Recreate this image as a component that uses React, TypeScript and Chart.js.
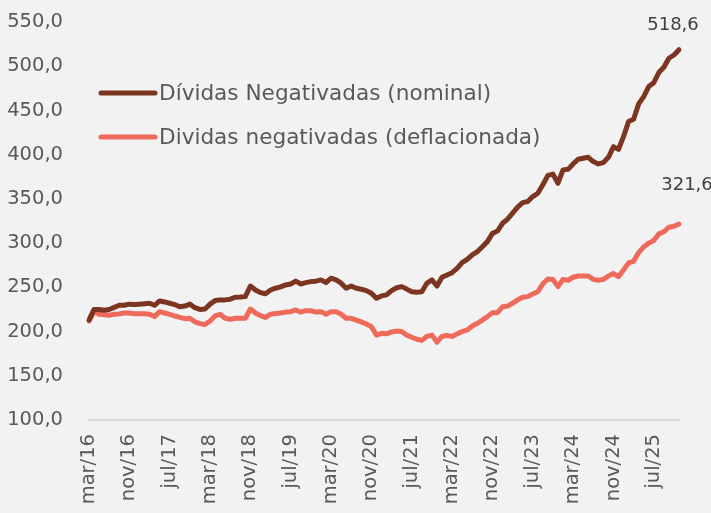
import React, { useEffect, useRef } from 'react';
import { Chart, registerables } from 'chart.js';

Chart.register(...registerables);

const MONTHS = ['jan', 'fev', 'mar', 'abr', 'mai', 'jun', 'jul', 'ago', 'set', 'out', 'nov', 'dez'];
const START_YEAR = 2016;
const START_MONTH = 2; // março

const nominal = [
  213, 225, 225, 224, 225, 227.4, 229.7, 229.7, 231, 230.5, 231, 231.5,
  232, 229.7, 234.6, 233.5, 232, 230.5, 228, 228.8, 231, 227, 225, 225.4,
  231, 235, 235.8, 235.8, 236.6, 238.8, 239, 239.5, 251.5, 247, 244, 242.8,
  247, 249, 250.5, 252.7, 253.8, 257, 253.8, 255.3, 256.5, 257, 258.4, 255.3,
  260.3, 258.4, 254.7, 249, 251.5, 249, 247.8, 246.3, 243.3, 237.6, 240.3, 241.5,
  246.3, 249.5, 250.8, 248, 245, 244.5, 245, 254.6, 258.4, 251.5, 261.4, 264,
  266.6, 271.5, 278, 281.7, 286.6, 290.3, 296, 301.7, 311, 313.6, 322.4, 327,
  333.8, 340.6, 345.8, 347, 352.6, 356.4, 366, 376.5, 378, 367.7, 382.8, 383.4,
  389.5, 394.8, 396, 397, 392.2, 389.5, 391, 397, 409, 406, 420.4, 437.4,
  440, 457.4, 465.6, 477, 481.4, 492.8, 498.8, 509, 512.7, 518.6,
];

const deflacionada = [
  212, 222.5, 219.5, 219, 218.5, 219.5, 220, 221, 221, 220, 220, 220,
  219.7, 216.9, 222.5, 221, 219.5, 217.6, 216, 214.6, 215, 211, 209, 208,
  212, 217.6, 219.5, 215, 214, 215, 215, 215, 225.5, 221, 218, 216,
  219.7, 220.5, 221, 222, 222.5, 224.4, 222, 223.6, 223.6, 222, 222.5, 219.5,
  222.5, 222.5, 219.5, 215, 215, 213, 211, 208.6, 205.6, 196, 198, 197.4,
  199.6, 200.5, 200, 196, 193.6, 191.3, 190, 194.5, 196, 188, 194.5, 195.6,
  194.5, 197.4, 200, 201.8, 206.3, 209.3, 213, 216.9, 221.4, 221.4, 228, 228.8,
  232, 235.8, 238.8, 239.5, 242.5, 245, 254, 259.5, 259, 250.8, 259, 258,
  261.4, 262.8, 262.8, 262.8, 259, 258, 259, 262.8, 265.6, 262, 269.6, 277.6,
  279.4, 289.3, 295.7, 300, 303, 310.4, 312.8, 318, 319, 321.6,
];

const labels = nominal.map((_, i) => {
  const m = (START_MONTH + i) % 12;
  const y = START_YEAR + Math.floor((START_MONTH + i) / 12);
  return `${MONTHS[m]}/${String(y).slice(2)}`;
});

const seriesNames = ['Dívidas Negativadas (nominal)', 'Dividas negativadas (deflacionada)'];
const seriesColors = ['#7b3520', '#ee6a5b'];
const endLabels = ['518,6', '321,6'];
const TICK_EVERY = 8;

const FONT = '"DejaVu Sans", sans-serif';

const bgPlugin = {
  id: 'bg',
  beforeDraw(chart: any) {
    const { ctx, width, height } = chart;
    ctx.save();
    ctx.fillStyle = '#f2f2f2';
    ctx.fillRect(0, 0, width, height);
    ctx.restore();
  },
};

const overlayPlugin = {
  id: 'overlay',
  afterDatasetsDraw(chart: any) {
    const { ctx, chartArea } = chart;
    ctx.save();
    // legend
    ctx.font = `21.6px ${FONT}`;
    ctx.textBaseline = 'middle';
    ctx.textAlign = 'left';
    const legendY = [chartArea.top + 71, chartArea.top + 115];
    seriesNames.forEach((name, i) => {
      ctx.strokeStyle = seriesColors[i];
      ctx.lineWidth = 5;
      ctx.lineCap = 'round';
      ctx.beginPath();
      ctx.moveTo(chartArea.left + 12, legendY[i]);
      ctx.lineTo(chartArea.left + 66, legendY[i]);
      ctx.stroke();
      ctx.fillStyle = '#595959';
      ctx.fillText(name, chartArea.left + 70, legendY[i] + 1);
    });
    // end labels
    ctx.font = `18px ${FONT}`;
    ctx.fillStyle = '#404040';
    ctx.textAlign = 'center';
    const offsets = [
      [-6, -24],
      [8, -39],
    ];
    chart.data.datasets.forEach((_: any, di: number) => {
      const meta = chart.getDatasetMeta(di);
      const pt = meta.data[meta.data.length - 1];
      ctx.fillText(endLabels[di], pt.x + offsets[di][0], pt.y + offsets[di][1]);
    });
    ctx.restore();
  },
};

export default function App() {
  const ref = useRef<HTMLCanvasElement>(null);
  useEffect(() => {
    document.body.style.margin = '0';
    document.body.style.background = '#f2f2f2';
    const chart = new Chart(ref.current!, {
      type: 'line',
      data: {
        labels,
        datasets: [
          {
            label: seriesNames[0],
            data: nominal,
            borderColor: seriesColors[0],
            borderWidth: 5,
            pointRadius: 0,
            tension: 0,
            borderCapStyle: 'round',
            borderJoinStyle: 'round',
          },
          {
            label: seriesNames[1],
            data: deflacionada,
            borderColor: seriesColors[1],
            borderWidth: 5,
            pointRadius: 0,
            tension: 0,
            borderCapStyle: 'round',
            borderJoinStyle: 'round',
          },
        ],
      },
      options: {
        responsive: false,
        animation: false,
        layout: { padding: { top: 22, right: 32, left: 0, bottom: 0 } },
        plugins: {
          legend: { display: false },
          tooltip: { enabled: false },
        },
        scales: {
          x: {
            grid: { display: false, drawTicks: false },
            border: { display: true, color: '#d9d9d9', width: 2 },
            ticks: {
              autoSkip: false,
              maxRotation: 90,
              minRotation: 90,
              padding: 14,
              color: '#595959',
              font: { family: FONT, size: 19.5 },
              callback: (_v: any, i: number) => (i % TICK_EVERY === 0 ? labels[i] : null),
            },
            afterFit: (scale: any) => {
              scale.height = 93;
            },
          },
          y: {
            min: 100,
            max: 550,
            grid: {
              display: true,
              drawOnChartArea: false,
              drawTicks: true,
              tickLength: 24,
              tickColor: 'rgba(0,0,0,0)',
            },
            border: { display: false },
            ticks: {
              stepSize: 50,
              padding: 2,
              color: '#595959',
              font: { family: FONT, size: 19.5 },
              callback: (v: any) => Number(v).toFixed(1).replace('.', ','),
            },
            afterFit: (scale: any) => {
              scale.width = 89;
            },
          },
        },
      },
      plugins: [bgPlugin, overlayPlugin],
    });
    return () => chart.destroy();
  }, []);
  return <canvas ref={ref} width={711} height={513} style={{ display: 'block' }} />;
}
